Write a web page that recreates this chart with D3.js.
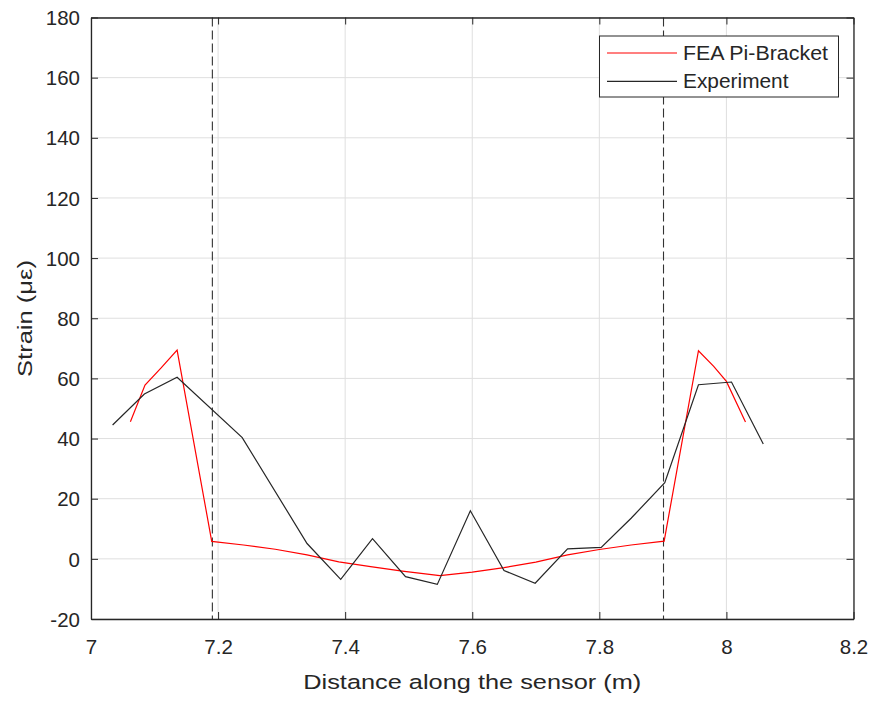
<!DOCTYPE html>
<html>
<head>
<meta charset="utf-8">
<script src="https://cdn.jsdelivr.net/npm/d3@7"></script>
<style>
  html, body { margin: 0; padding: 0; background: #fff; }
  svg { display: block; font-family: "Liberation Sans", Arial, Helvetica, sans-serif; }
</style>
</head>
<body>
<svg id="chart" width="874" height="701"></svg>
<script>
// Strain profile along the sensor: FEA model vs. experiment
const feaX = [7.062, 7.085, 7.110, 7.1355, 7.190, 7.240, 7.290, 7.340, 7.390, 7.440, 7.490, 7.549, 7.600, 7.650, 7.700, 7.750, 7.800, 7.850, 7.902, 7.956, 7.980, 8.000, 8.030];
const feaY = [45.6, 57.8, 63.4, 69.4, 5.8, 4.6, 3.2, 1.3, -1.0, -2.6, -4.1, -5.6, -4.4, -2.9, -1.1, 1.3, 3.1, 4.6, 5.9, 69.2, 64.0, 59.0, 45.5];

const expX = [7.034, 7.084, 7.1355, 7.238, 7.340, 7.393, 7.443, 7.495, 7.545, 7.597, 7.650, 7.699, 7.750, 7.803, 7.850, 7.903, 7.956, 8.008, 8.058];
const expY = [44.5, 54.8, 60.4, 40.3, 5.1, -6.8, 6.7, -5.9, -8.5, 16.0, -3.9, -8.1, 3.3, 3.8, 13.5, 25.3, 57.9, 58.8, 38.2];

// Bracket boundaries (dashed verticals)
const boundaryX = [7.191, 7.901];

const xTicks = [7, 7.2, 7.4, 7.6, 7.8, 8, 8.2];
const yTicks = [-20, 0, 20, 40, 60, 80, 100, 120, 140, 160, 180];

const seriesNames = ["FEA Pi-Bracket", "Experiment"];
const seriesColors = ["#ff0000", "#262626"];

const svg = d3.select("#chart");
const plotLeft = 91, plotRight = 853.5, plotTop = 17.5, plotBottom = 619;

const x = d3.scaleLinear().domain([7, 8.2]).range([plotLeft, plotRight]);
const y = d3.scaleLinear().domain([-20, 180]).range([plotBottom, plotTop]);

// Grid
const grid = svg.append("g");
grid.selectAll("line.gx").data(xTicks).join("line")
  .attr("x1", d => x(d)).attr("x2", d => x(d))
  .attr("y1", plotTop).attr("y2", plotBottom)
  .attr("stroke", "#dfdfdf").attr("stroke-width", 1);
grid.selectAll("line.gy").data(yTicks).join("line")
  .attr("x1", plotLeft).attr("x2", plotRight)
  .attr("y1", d => y(d)).attr("y2", d => y(d))
  .attr("stroke", "#dfdfdf").attr("stroke-width", 1);

// Boundary markers
svg.append("g").selectAll("line").data(boundaryX).join("line")
  .attr("x1", d => x(d)).attr("x2", d => x(d))
  .attr("y1", plotTop).attr("y2", plotBottom)
  .attr("stroke", "#333").attr("stroke-width", 1.1)
  .attr("stroke-dasharray", "9,4");

// Series lines
const line = d3.line().x(d => x(d[0])).y(d => y(d[1]));
const feaData = feaX.map((v, i) => [v, feaY[i]]);
const expData = expX.map((v, i) => [v, expY[i]]);

svg.append("path").datum(feaData).attr("d", line)
  .attr("fill", "none").attr("stroke", seriesColors[0]).attr("stroke-width", 1.2);
svg.append("path").datum(expData).attr("d", line)
  .attr("fill", "none").attr("stroke", seriesColors[1]).attr("stroke-width", 1.2);

// Axes (ticks inward, on all four sides)
const tickLen = 7;
const fmt = d => String(d);
const axB = svg.append("g").attr("transform", `translate(0,${plotBottom})`)
  .call(d3.axisBottom(x).tickValues(xTicks).tickSizeInner(-tickLen).tickSizeOuter(0).tickPadding(20.5).tickFormat(fmt));
const axT = svg.append("g").attr("transform", `translate(0,${plotTop})`)
  .call(d3.axisTop(x).tickValues(xTicks).tickSizeInner(-tickLen).tickSizeOuter(0).tickFormat(""));
const axL = svg.append("g").attr("transform", `translate(${plotLeft},0)`)
  .call(d3.axisLeft(y).tickValues(yTicks).tickSizeInner(-tickLen).tickSizeOuter(0).tickPadding(11).tickFormat(fmt));
const axR = svg.append("g").attr("transform", `translate(${plotRight},0)`)
  .call(d3.axisRight(y).tickValues(yTicks).tickSizeInner(-tickLen).tickSizeOuter(0).tickFormat(""));

[axB, axT, axL, axR].forEach(g => {
  g.selectAll(".domain").attr("stroke", "#262626").attr("stroke-width", 1.3);
  g.selectAll(".tick line").attr("stroke", "#262626").attr("stroke-width", 1);
  g.selectAll(".tick text").attr("fill", "#262626").attr("font-size", 20.5)
    .attr("font-family", "Liberation Sans, Arial, sans-serif");
});
axB.selectAll(".tick text").attr("dy", "0.71em");
axL.selectAll(".tick text").attr("dy", "0.35em");

// Axis titles
svg.append("text")
  .attr("x", (plotLeft + plotRight) / 2).attr("y", 688.5)
  .attr("text-anchor", "middle").attr("font-size", 20.5).attr("fill", "#262626")
  .attr("textLength", 338).attr("lengthAdjust", "spacingAndGlyphs")
  .text("Distance along the sensor (m)");
svg.append("text")
  .attr("transform", `translate(31.5,318.5) rotate(-90)`)
  .attr("text-anchor", "middle").attr("font-size", 20.5).attr("fill", "#262626")
  .attr("textLength", 117).attr("lengthAdjust", "spacingAndGlyphs")
  .text("Strain (με)");

// Legend
const legendWidths = [145, 105.5];
const lg = svg.append("g");
lg.append("rect").attr("x", 599.5).attr("y", 36).attr("width", 239).attr("height", 61)
  .attr("fill", "#fff").attr("stroke", "#262626").attr("stroke-width", 1);
seriesNames.forEach((name, i) => {
  const ly = 53 + i * 28.3;
  lg.append("line").attr("x1", 607).attr("x2", 677).attr("y1", ly).attr("y2", ly)
    .attr("stroke", seriesColors[i]).attr("stroke-width", 1.2);
  lg.append("text").attr("x", 683).attr("y", ly).attr("dy", "0.35em")
    .attr("font-size", 19.5).attr("fill", "#262626")
    .attr("textLength", legendWidths[i]).attr("lengthAdjust", "spacingAndGlyphs")
    .text(name);
});
</script>
</body>
</html>
